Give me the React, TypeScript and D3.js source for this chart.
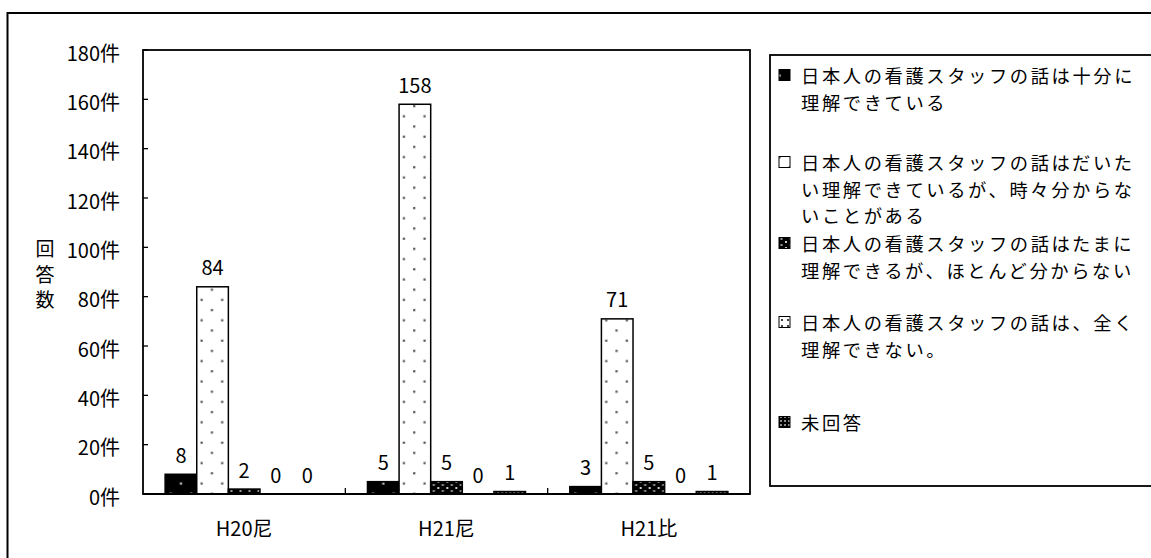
import * as d3 from "d3";

const categories = ["H20尼", "H21尼", "H21比"];
const fullyUnderstand = [8, 5, 3];
const mostlyUnderstand = [84, 158, 71];
const rarelyUnderstand = [2, 5, 5];
const notAtAll = [0, 0, 0];
const noAnswer = [0, 1, 1];
const yTicks = [0, 20, 40, 60, 80, 100, 120, 140, 160, 180];
const yTitle = ["回", "答", "数"];
const legendLines = [
  ["日本人の看護スタッフの話は十分に", "理解できている"],
  ["日本人の看護スタッフの話はだいた", "い理解できているが、時々分からな", "いことがある"],
  ["日本人の看護スタッフの話はたまに", "理解できるが、ほとんど分からない"],
  ["日本人の看護スタッフの話は、全く", "理解できない。"],
  ["未回答"],
];

const series = [fullyUnderstand, mostlyUnderstand, rarelyUnderstand, notAtAll, noAnswer];
const patterns = ["pDark", "pDots", "pDense", "pLight", "pCheck"];

const W = 1151;
const H = 558;
const plot = { left: 143, top: 50, right: 750, bottom: 494 };
const font = "'Noto Sans CJK JP', 'Noto Sans', sans-serif";
const legendY = [75, 162, 243, 322, 422]; // first line centre of each entry
const lineH = 26.7;

export default function App() {
  const y = d3.scaleLinear().domain([0, 180]).range([plot.bottom, plot.top]);
  const x = d3.scaleBand<string>().domain(categories).range([plot.left, plot.right]);
  const xs = d3
    .scaleBand<number>()
    .domain(d3.range(series.length))
    .range([0, x.bandwidth()])
    .paddingInner(0)
    .paddingOuter(0.7);

  return (
    <svg width={W} height={H} style={{ position: "absolute", left: 0, top: 0 }} fontFamily={font}>
      <defs>
        <pattern id="pDark" width="20.6" height="20.4" patternUnits="userSpaceOnUse">
          <rect width="20.6" height="20.4" fill="#000" />
          <rect x="6" y="3" width="2.2" height="2.2" fill="#ccc" />
          <rect x="16.3" y="13.2" width="2.2" height="2.2" fill="#ccc" />
        </pattern>
        <pattern id="pDots" width="20.6" height="20.4" patternUnits="userSpaceOnUse">
          <rect width="20.6" height="20.4" fill="#fff" />
          <rect x="6" y="3" width="2.2" height="2.2" fill="#555" />
          <rect x="16.3" y="13.2" width="2.2" height="2.2" fill="#555" />
        </pattern>
        <pattern id="pDense" width="9" height="6" patternUnits="userSpaceOnUse">
          <rect width="9" height="6" fill="#000" />
          <rect x="2" y="1" width="2" height="2" fill="#ccc" />
          <rect x="6.5" y="4" width="2" height="2" fill="#999" />
        </pattern>
        <pattern id="pLight" width="6" height="6" patternUnits="userSpaceOnUse">
          <rect width="6" height="6" fill="#fff" />
          <rect x="1" y="1" width="2" height="2" fill="#444" />
        </pattern>
        <pattern id="pCheck" width="4" height="4" patternUnits="userSpaceOnUse">
          <rect width="4" height="4" fill="#000" />
          <rect x="0" y="0" width="2" height="2" fill="#888" />
        </pattern>
      </defs>

      <rect x={7.5} y={13} width={1200} height={600} fill="#fff" stroke="#000" strokeWidth={2} />

      {/* plot frame */}
      <rect
        x={plot.left}
        y={plot.top}
        width={plot.right - plot.left}
        height={plot.bottom - plot.top}
        fill="#fff"
        stroke="#000"
        strokeWidth={1.8}
      />

      {yTicks.map((t) => (
        <g key={t}>
          <line x1={plot.left} x2={plot.left + 5} y1={y(t)} y2={y(t)} stroke="#000" strokeWidth={1.3} />
          <text x={120} y={y(t) + 2} textAnchor="end" dominantBaseline="central" fontSize={20}>
            {t}件
          </text>
        </g>
      ))}

      {categories.slice(1).map((c) => (
        <line key={c} x1={x(c)} x2={x(c)} y1={plot.bottom} y2={plot.bottom - 6} stroke="#000" strokeWidth={1.3} />
      ))}

      <text textAnchor="middle" dominantBaseline="central" fontSize={19}>
        {yTitle.map((ch, i) => (
          <tspan key={ch} x={45} y={247 + i * 25.5}>
            {ch}
          </tspan>
        ))}
      </text>

      {categories.map((c, ci) => (
        <g key={c} transform={`translate(${x(c)},0)`}>
          {series.map((vals, si) => {
            const v = vals[ci];
            const bx = xs(si)!;
            return (
              <g key={si}>
                {v > 0 && (
                  <rect
                    x={bx}
                    y={y(v)}
                    width={xs.bandwidth()}
                    height={plot.bottom - y(v)}
                    fill={`url(#${patterns[si]})`}
                    stroke="#000"
                    strokeWidth={1.5}
                  />
                )}
                <text
                  x={bx + xs.bandwidth() / 2}
                  y={y(v) - 20}
                  textAnchor="middle"
                  dominantBaseline="central"
                  fontSize={20}
                >
                  {v}
                </text>
              </g>
            );
          })}
          <text x={x.bandwidth() / 2} y={527} textAnchor="middle" dominantBaseline="central" fontSize={20}>
            {c}
          </text>
        </g>
      ))}

      <line x1={plot.left} x2={plot.right} y1={plot.bottom} y2={plot.bottom} stroke="#000" strokeWidth={2} />

      {/* legend */}
      <rect x={770} y={55} width={500} height={431} fill="#fff" stroke="#000" strokeWidth={1.8} />
      {legendLines.map((lines, i) => (
        <g key={i}>
          <rect
            x={779}
            y={legendY[i] - 5.5}
            width={11}
            height={11}
            fill={`url(#${patterns[i]})`}
            stroke="#000"
            strokeWidth={1}
          />
          <text dominantBaseline="central" fontSize={18.3} letterSpacing={2.6}>
            {lines.map((ln, j) => (
              <tspan key={j} x={801} y={legendY[i] + j * lineH}>
                {ln}
              </tspan>
            ))}
          </text>
        </g>
      ))}
    </svg>
  );
}
